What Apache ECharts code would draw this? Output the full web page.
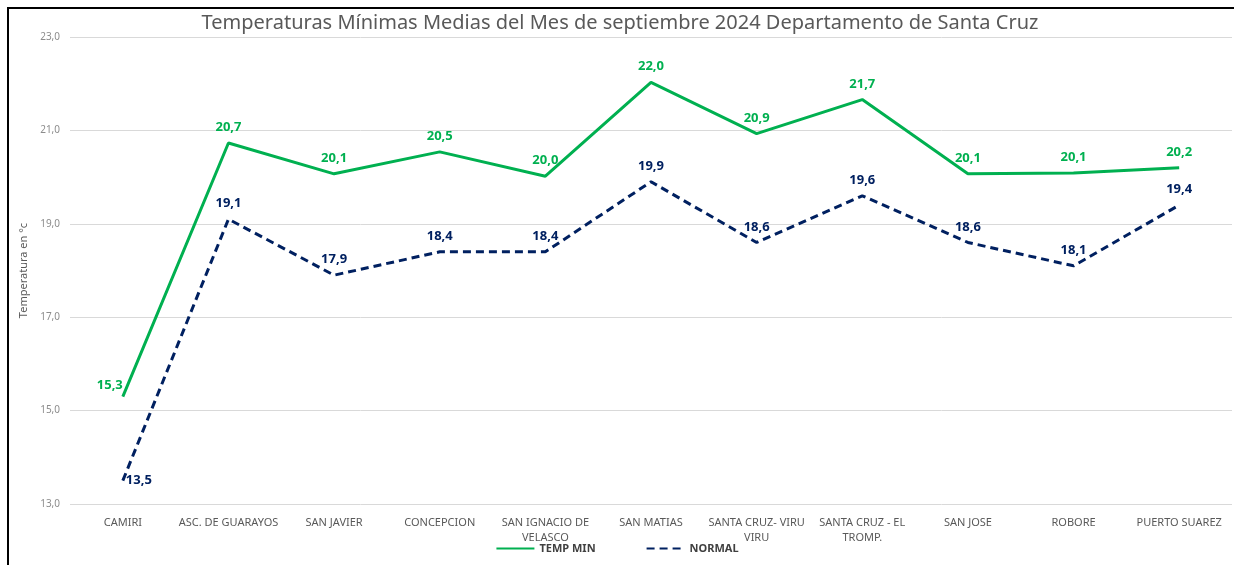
<!DOCTYPE html>
<html>
<head>
<meta charset="utf-8">
<script src="https://cdn.jsdelivr.net/npm/echarts@6/dist/echarts.min.js"></script>
<style>
    html, body { margin: 0; padding: 0; background: #fff; }
    #frame { position: absolute; left: 7px; top: 7px; width: 1227px; height: 558px; border-left: 2px solid #000; border-top: 2px solid #000; }
    #chart { position: absolute; left: 0; top: 0; width: 1234px; height: 565px; }
</style>
</head>
<body>
<div id="frame"></div>
<div id="chart"></div>
<script>
var estaciones = ["CAMIRI", "ASC. DE GUARAYOS", "SAN JAVIER", "CONCEPCION", "SAN IGNACIO DE\nVELASCO",
    "SAN MATIAS", "SANTA CRUZ- VIRU\nVIRU", "SANTA CRUZ - EL\nTROMP.", "SAN JOSE", "ROBORE", "PUERTO SUAREZ"];
var tempMin = [15.3, 20.73, 20.07, 20.54, 20.02, 22.03, 20.93, 21.66, 20.07, 20.09, 20.2];
var normal = [13.5, 19.1, 17.9, 18.4, 18.4, 19.9, 18.6, 19.6, 18.6, 18.1, 19.4];

var verde = "#00b050";
var azul = "#002060";

function fmt (v) {
    return v.toFixed(1).replace(".", ",");
}

var myChart = echarts.init(document.getElementById("chart"));
var option = {
    animation: false,
    title: {
        text: "Temperaturas Mínimas Medias del Mes de septiembre 2024 Departamento de Santa Cruz",
        left: 615,
        textAlign: "center",
        top: 8,
        textStyle: { fontFamily: "Noto Sans", fontSize: 20, fontWeight: "normal", color: "#595959" }
    },
    legend: {
        bottom: 6,
        left: "center",
        itemGap: 50,
        itemWidth: 38,
        itemHeight: 10,
        itemStyle: { opacity: 0 },
        textStyle: { fontFamily: "Noto Sans", fontSize: 11, fontWeight: "bold", color: "#404040" },
        data: ["TEMP MIN", "NORMAL"]
    },
    grid: { left: 70, right: 2, top: 37, bottom: 61 },
    xAxis: {
        type: "category",
        data: estaciones,
        axisLine: { show: false },
        axisTick: { show: false },
        axisLabel: {
            margin: 11,
            interval: 0,
            fontFamily: "Noto Sans",
            fontSize: 11,
            color: "#595959",
            lineHeight: 15
        }
    },
    yAxis: {
        type: "value",
        min: 13,
        max: 23,
        interval: 2,
        name: "Temperatura en °c",
        nameLocation: "middle",
        nameGap: 39,
        nameTextStyle: { fontFamily: "Noto Sans", fontSize: 11, color: "#595959" },
        axisLabel: {
            margin: 10,
            fontFamily: "Noto Sans",
            fontSize: 10,
            color: "#8c8c8c",
            formatter: function (v) { return fmt(v); }
        },
        splitLine: { lineStyle: { color: "#d9d9d9", width: 1 } }
    },
    series: [
        {
            name: "TEMP MIN",
            type: "line",
            data: tempMin.map(function (v, i) {
                if (i === 0) {
                    return { value: v, label: { position: "left", distance: 0, offset: [0, -11] } };
                }
                return v;
            }),
            symbol: "circle",
            symbolSize: 0.1,
            itemStyle: { color: verde },
            lineStyle: { color: verde, width: 3 },
            label: {
                show: true,
                position: "top",
                distance: 9,
                fontFamily: "Noto Sans",
                fontSize: 13,
                fontWeight: "bold",
                color: verde,
                formatter: function (p) { return fmt(p.value); }
            }
        },
        {
            name: "NORMAL",
            type: "line",
            data: normal.map(function (v, i) {
                if (i === 0) {
                    return { value: v, label: { position: "right", distance: 3 } };
                }
                return v;
            }),
            symbol: "circle",
            symbolSize: 0.1,
            itemStyle: { color: azul },
            lineStyle: { color: azul, width: 3, type: [8, 5] },
            label: {
                show: true,
                position: "top",
                distance: 9,
                fontFamily: "Noto Sans",
                fontSize: 13,
                fontWeight: "bold",
                color: azul,
                formatter: function (p) { return fmt(p.value); }
            }
        }
    ]
};
myChart.setOption(option);
</script>
</body>
</html>
